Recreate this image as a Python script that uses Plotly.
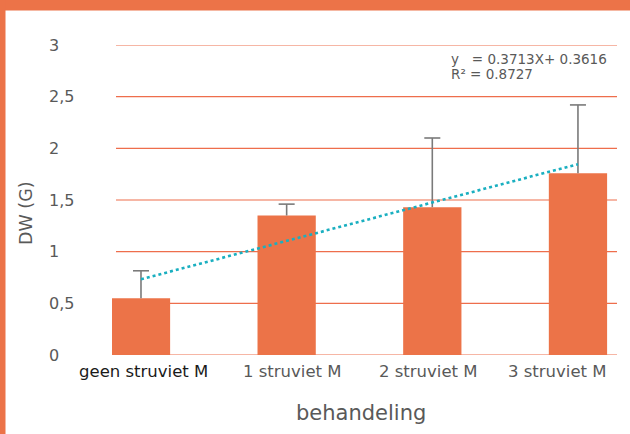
import plotly.graph_objects as go

# Dry weight per treatment, with error margins
categories = ["geen struviet M", "1 struviet M", "2 struviet M", "3 struviet M"]
dw_mean = [0.55, 1.35, 1.43, 1.76]
dw_err = [0.265, 0.11, 0.67, 0.66]

# Linear trend fitted over treatment index 1..4
trend_slope = 0.3713
trend_intercept = 0.3616

y_ticks = [0, 0.5, 1, 1.5, 2, 2.5, 3]
y_tick_text = ["0", "0,5", "1", "1,5", "2", "2,5", "3"]

ORANGE = "#EC7348"
GRID = "#EE6E4C"
TEXT = "#595959"
FONT = "DejaVu Sans"

x_idx = list(range(len(categories)))
trend_y = [trend_slope * (i + 1) + trend_intercept for i in x_idx]

# Upper error whiskers with a cap at the top only
cap = 0.055
err_x, err_y = [], []
for i, (m, e) in enumerate(zip(dw_mean, dw_err)):
    err_x += [i, i, None, i - cap, i + cap, None]
    err_y += [m, m + e, None, m + e, m + e, None]

# Paper-coordinate helpers (plot area 112..617 x 45..355 px)
L, R, T, B = 112, 13, 45, 79
W, H = 630, 434
pw, ph = W - L - R, H - T - B


def px(x):
    return (x - L) / pw


def py(y):
    return (H - B - y) / ph


fig = go.Figure()
fig.add_trace(go.Bar(
    x=x_idx, y=dw_mean, width=0.4,
    marker=dict(color=ORANGE, line=dict(width=0)),
    showlegend=False,
))
fig.add_trace(go.Scatter(
    x=err_x, y=err_y, mode="lines",
    line=dict(color="#7a7a7a", width=1.6),
    showlegend=False, cliponaxis=False,
))
fig.add_trace(go.Scatter(
    x=x_idx, y=trend_y, mode="lines",
    line=dict(color="#1AAFC0", width=2.6, dash="dot"),
    showlegend=False,
))

shapes = [
    dict(type="line", xref="paper", yref="y", x0=px(116), x1=px(617), y0=v, y1=v,
         line=dict(color=GRID, width=1.2), layer="below")
    for v in y_ticks
]
shapes += [
    dict(type="rect", xref="paper", yref="paper", x0=px(0), x1=px(W),
         y0=py(10.5), y1=py(-2), fillcolor=ORANGE, line=dict(width=0), layer="above"),
    dict(type="rect", xref="paper", yref="paper", x0=px(-2), x1=px(5.5),
         y0=py(H + 2), y1=py(-2), fillcolor=ORANGE, line=dict(width=0), layer="above"),
]

# y tick labels, left aligned
annotations = [
    dict(text=t, xref="paper", yref="y", x=px(48), y=v, showarrow=False,
         font=dict(size=16, color=TEXT), xanchor="left", yanchor="middle", borderpad=0)
    for v, t in zip(y_ticks, y_tick_text)
]
# category labels under the axis
label_centers = [143, 292, 428, 557]
label_colors = ["#1a1a1a", TEXT, TEXT, TEXT]
annotations += [
    dict(text=c, xref="paper", yref="paper", x=px(cx), y=py(371), showarrow=False,
         font=dict(size=16.5, color=col), xanchor="center", yanchor="middle", borderpad=0)
    for c, cx, col in zip(categories, label_centers, label_colors)
]
annotations += [
    dict(text="behandeling", xref="paper", yref="paper", x=px(361), y=py(413),
         showarrow=False, font=dict(size=21, color=TEXT), xanchor="center", yanchor="middle"),
    dict(text="DW (G)", xref="paper", yref="paper", x=px(26), y=py(213),
         showarrow=False, textangle=-90, font=dict(size=17.5, color=TEXT),
         xanchor="center", yanchor="middle"),
    dict(text="y   = 0.3713X+ 0.3616", xref="paper", yref="paper", x=px(450), y=py(59.5),
         showarrow=False, font=dict(size=13.5, color=TEXT), xanchor="left", yanchor="middle",
         borderpad=0),
    dict(text="R² = 0.8727", xref="paper", yref="paper", x=px(450), y=py(73.5),
         showarrow=False, font=dict(size=13.5, color=TEXT), xanchor="left", yanchor="middle",
         borderpad=0),
]

fig.update_layout(
    width=W, height=H,
    margin=dict(l=L, r=R, t=T, b=B),
    paper_bgcolor="white", plot_bgcolor="white",
    font=dict(family=FONT, color=TEXT),
    xaxis=dict(
        range=[-0.199, 3.268], showgrid=False, zeroline=False, showline=False,
        ticks="", showticklabels=False,
    ),
    yaxis=dict(
        range=[0, 3.0], showgrid=False, zeroline=False, showline=False,
        ticks="", showticklabels=False,
    ),
    shapes=shapes,
    annotations=annotations,
)

fig.write_html("out.html")
